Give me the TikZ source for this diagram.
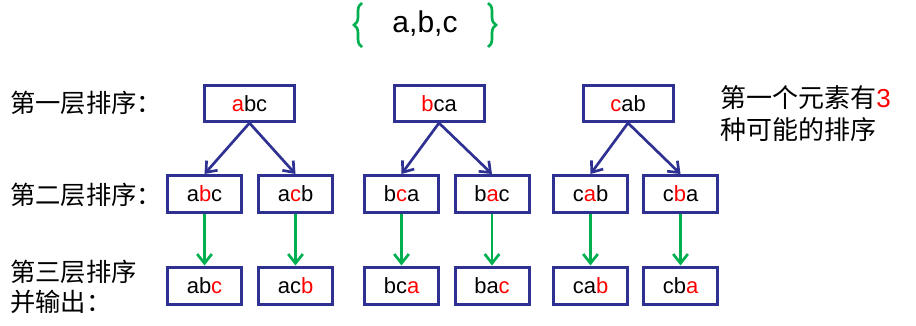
\documentclass[tikz,border=0pt]{standalone}
\usepackage{fontspec}
\setmainfont{Liberation Sans}
\newfontfamily\cjk{Noto Sans CJK SC}
\usetikzlibrary{arrows.meta,decorations.pathreplacing}
\definecolor{boxblue}{RGB}{46,49,146}
\definecolor{arrgreen}{RGB}{0,176,80}
\newcommand{\rd}[1]{\textcolor{red}{#1}}
\begin{document}
\begin{tikzpicture}[x=0.75pt,y=-0.75pt,
  topbox/.style={draw=boxblue,line width=2.25pt,minimum width=67.5pt,minimum height=27pt,inner sep=0pt,font=\fontsize{16.5}{18}\selectfont},
  subbox/.style={draw=boxblue,line width=2.25pt,minimum width=55.5pt,minimum height=27.75pt,inner sep=0pt,font=\fontsize{16.5}{18}\selectfont},
  bluearr/.style={draw=boxblue,line width=2pt,-{Straight Barb[length=7pt,width=11pt]}},
  greenarr/.style={draw=arrgreen,line width=2pt,-{Straight Barb[length=7pt,width=11pt]}},
  gbrace/.style={draw=arrgreen,line width=2pt,decorate,decoration={brace,amplitude=6pt}},
  lbl/.style={font=\cjk\fontsize{19}{22.5}\selectfont,inner sep=0pt,align=left}
]
\useasboundingbox (0,0) rectangle (916,325);

% title
\node (title) at (425,24) {\fontsize{22.5}{24}\selectfont a,b,c};
\draw[gbrace] (362,47) -- (362,3);
\draw[gbrace] (488,3) -- (488,47);

% left labels
\node[lbl,anchor=west] (l1) at (10,103) {第一层排序：};
\node[lbl,anchor=west] (l2) at (10,195) {第二层排序：};
\node[lbl,anchor=west] (l3) at (10,287) {第三层排序\\并输出：};

% right text
\node[lbl,anchor=west,font=\cjk\fontsize{19.5}{24}\selectfont] (note) at (720,114) {第一个元素有{\rmfamily\rd{3}}\\种可能的排序};

% top row
\node[topbox] (t1) at (249.5,103.5) {\rd{a}bc};
\node[topbox] (t2) at (439,103.5) {\rd{b}ca};
\node[topbox] (t3) at (628,103.5) {\rd{c}ab};

% second row
\node[subbox] (s1) at (204.5,194) {a\rd{b}c};
\node[subbox] (s2) at (295.5,194) {a\rd{c}b};
\node[subbox] (s3) at (401.5,194) {b\rd{c}a};
\node[subbox] (s4) at (492,194) {b\rd{a}c};
\node[subbox] (s5) at (590.5,194) {c\rd{a}b};
\node[subbox] (s6) at (680.5,194) {c\rd{b}a};

% third row
\node[subbox] (u1) at (204.5,285.5) {ab\rd{c}};
\node[subbox] (u2) at (295.5,285.5) {ac\rd{b}};
\node[subbox] (u3) at (401.5,285.5) {bc\rd{a}};
\node[subbox] (u4) at (492,285.5) {ba\rd{c}};
\node[subbox] (u5) at (590.5,285.5) {ca\rd{b}};
\node[subbox] (u6) at (680.5,285.5) {cb\rd{a}};

% blue arrows
\draw[bluearr] (t1.south) -- (s1.north);
\draw[bluearr] (t1.south) -- (s2.north);
\draw[bluearr] (t2.south) -- (s3.north);
\draw[bluearr] (t2.south) -- (s4.north);
\draw[bluearr] (t3.south) -- (s5.north);
\draw[bluearr] (t3.south) -- (s6.north);

% green arrows
\draw[greenarr] (s1.south) -- (u1.north);
\draw[greenarr] (s2.south) -- (u2.north);
\draw[greenarr] (s3.south) -- (u3.north);
\draw[greenarr] (s4.south) -- (u4.north);
\draw[greenarr] (s5.south) -- (u5.north);
\draw[greenarr] (s6.south) -- (u6.north);
\end{tikzpicture}
\end{document}
